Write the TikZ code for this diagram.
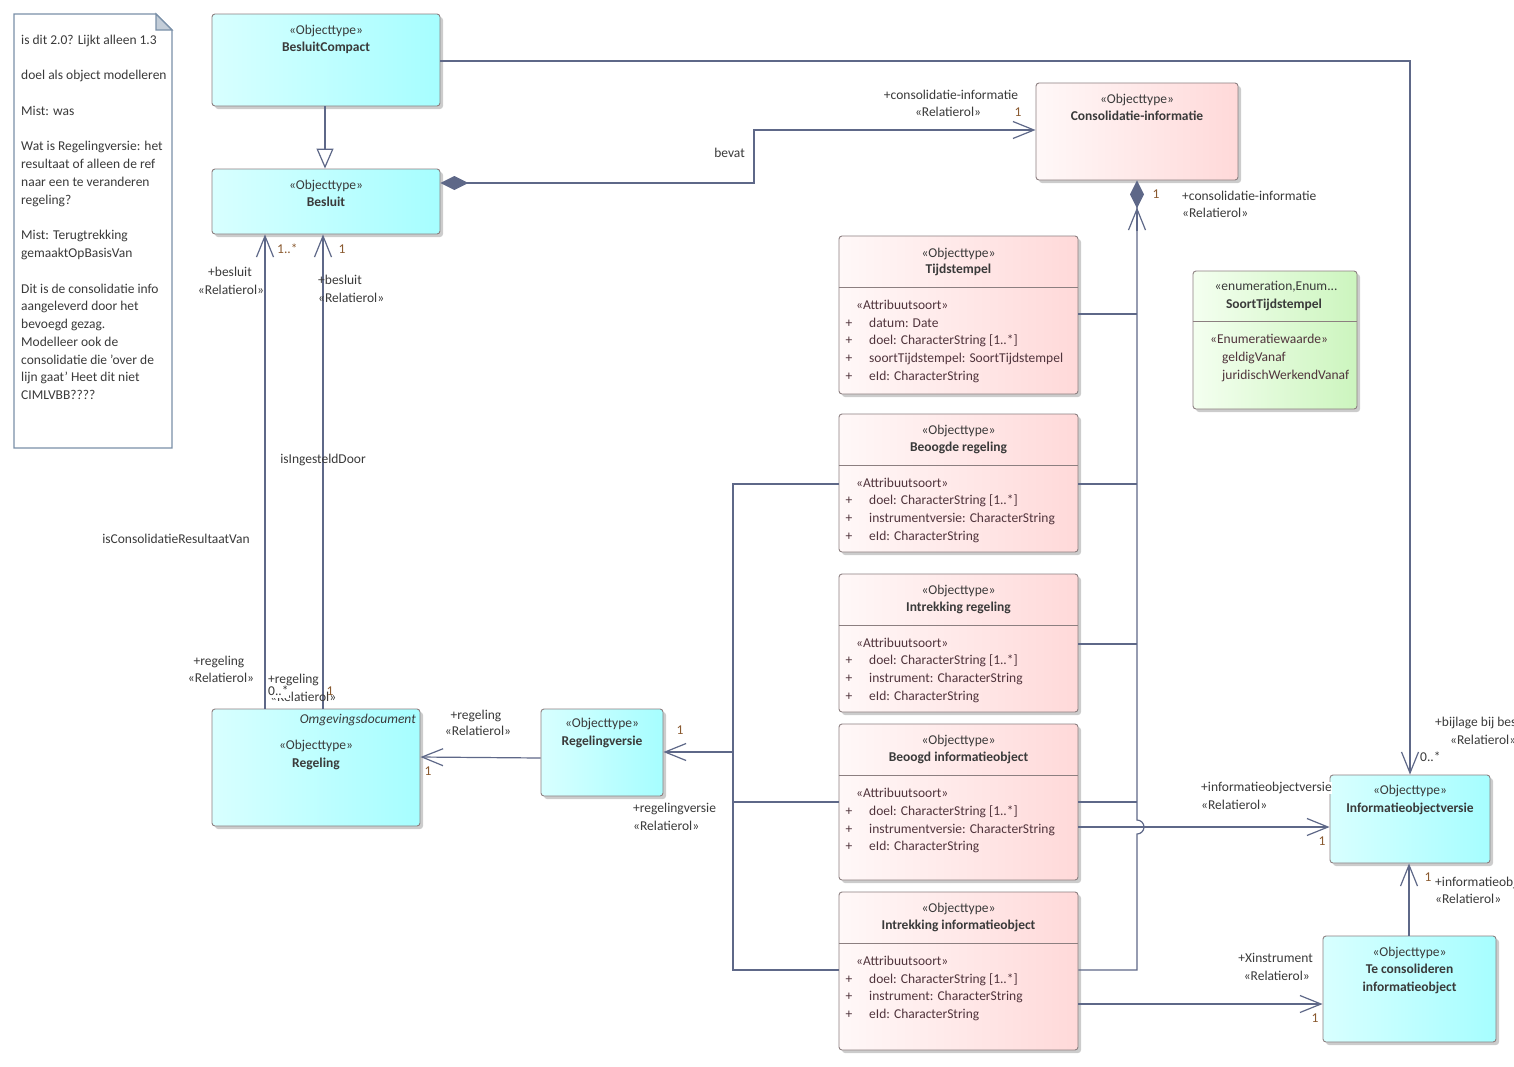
\documentclass[tikz,border=0pt]{standalone}
\usepackage{fontspec}
\setmainfont{Carlito}
\usetikzlibrary{arrows.meta,shadows,calc}
\definecolor{lc}{HTML}{5E6888}
\definecolor{bc}{HTML}{8C7F80}
\definecolor{tc}{HTML}{3A3A3A}
\definecolor{mc}{HTML}{8A5A30}
\definecolor{ac}{HTML}{50343C}
\definecolor{cyanL}{HTML}{D8FFFF}
\definecolor{cyanR}{HTML}{A6FEFF}
\definecolor{pinkL}{HTML}{FFF8F8}
\definecolor{pinkR}{HTML}{FFD9D9}
\definecolor{grnL}{HTML}{F4FFF0}
\definecolor{grnR}{HTML}{CCF5BE}
\definecolor{notec}{HTML}{7A90A8}
\newcommand\dfont{\fontsize{13.5}{17.7}\selectfont}
\tikzset{
 box/.style={draw=bc, line width=0.9pt, rounded corners=3pt, inner sep=0pt,
   drop shadow={shadow xshift=3pt,shadow yshift=-3pt,fill=black,opacity=0.2}},
 cyanbox/.style={box, left color=cyanL, right color=cyanR},
 pinkbox/.style={box, left color=pinkL, right color=pinkR},
 grnbox/.style={box, left color=grnL, right color=grnR},
 divider/.style={draw=bc, line width=0.9pt},
 lbl/.style={font=\dfont, text=tc, inner sep=0pt, text height=9pt, text depth=3pt},
 nm/.style={lbl, font=\dfont\bfseries},
 attr/.style={lbl, text=ac},
 mult/.style={lbl, text=mc},
 conn/.style={draw=lc, line width=1.2pt},
 oa/.style={-{Straight Barb[length=21pt,width=17pt,line width=1.2pt]}},
 gen/.style={-{Triangle[open,fill=white,length=20pt,width=17pt,line width=1.2pt]}},
 comp/.style={-{Diamond[length=28pt,width=14pt]}},
 compoa/.style={{Diamond[length=28pt,width=14pt]}-{Straight Barb[length=21pt,width=17pt,line width=1.2pt]}},
}
\begin{document}
\begin{tikzpicture}[x=1pt,y=-1pt]
\useasboundingbox (0,0) rectangle (1514,1066);
\fill[white] (0,0) rectangle (1514,1066);

% ---------- note ----------
\draw[notec, line width=1.1pt, fill=white] (14,14) -- (156,14) -- (172,30) -- (172,448) -- (14,448) -- cycle;
\draw[notec, line width=1.1pt, fill=notec!45] (156,14) -- (172,30) -- (156,30) -- cycle;
\foreach \yy/\tt in {41/{is dit 2.0? Lijkt alleen 1.3},76/{doel als object modelleren},112/{Mist: was},
  147/{Wat is Regelingversie: het},165/{resultaat of alleen de ref},183/{naar een te veranderen},201/{regeling?},
  236/{Mist: Terugtrekking},254/{gemaaktOpBasisVan},
  290/{Dit is de consolidatie info},307/{aangeleverd door het},325/{bevoegd gezag.},343/{Modelleer ook de},
  361/{consolidatie die 'over de},378/{lijn gaat' Heet dit niet},396/{CIMLVBB????}}
  \node[lbl, anchor=west] (note\yy) at (21,\yy) {\tt};

% ---------- classes ----------
\node[cyanbox, minimum width=228, minimum height=92] (bcmp) at (326,60) {};
\node[lbl] (bcmps) at (326,31) {«Objecttype»};
\node[nm] (bcmpn) at (326,48) {BesluitCompact};

\node[cyanbox, minimum width=228, minimum height=65] (besluit) at (326,201.5) {};
\node[lbl] (besluits) at (326,186) {«Objecttype»};
\node[nm] (besluitn) at (326,203) {Besluit};

\node[cyanbox, minimum width=208, minimum height=117] (regeling) at (316,767.5) {};
\node[lbl, anchor=east, font=\dfont\itshape] (regelingo) at (416,720) {Omgevingsdocument};
\node[lbl] (regelings) at (316,746) {«Objecttype»};
\node[nm] (regelingn) at (316,764) {Regeling};

\node[cyanbox, minimum width=122, minimum height=87] (rv) at (602,752.5) {};
\node[lbl] (rvs) at (602,724) {«Objecttype»};
\node[nm] (rvn) at (602,742) {Regelingversie};

\node[pinkbox, minimum width=202, minimum height=97] (ci) at (1137,131.5) {};
\node[lbl] (cis) at (1137,100) {«Objecttype»};
\node[nm] (cin) at (1137,117) {Consolidatie-informatie};

\node[grnbox, minimum width=164, minimum height=138] (st) at (1275,340) {};
\draw[divider] (st.west |- 0,321) -- (st.east |- 0,321);
\node[lbl] (sts) at (1276,287) {«enumeration,Enum...};
\node[nm] (stn) at (1274,305) {SoortTijdstempel};
\node[attr, anchor=west] (ste) at (1210,340) {«Enumeratiewaarde»};
\node[attr, anchor=west] (stv1) at (1222,358) {geldigVanaf};
\node[attr, anchor=west] (stv2) at (1222,376) {juridischWerkendVanaf};

\node[cyanbox, minimum width=160, minimum height=88] (iov) at (1410,819) {};
\node[lbl] (iovs) at (1410,791) {«Objecttype»};
\node[nm] (iovn) at (1410,809) {Informatieobjectversie};

\node[cyanbox, minimum width=173, minimum height=106] (tcio) at (1409.5,989) {};
\node[lbl] (tcios) at (1409.5,953) {«Objecttype»};
\node[nm] (tcion1) at (1409.5,970) {Te consolideren};
\node[nm] (tcion2) at (1409.5,988) {informatieobject};

% attribute classes
\node[pinkbox, minimum width=239, minimum height=158] (ts) at (958.5,315) {};
\draw[divider] (ts.west |- 0,287) -- (ts.east |- 0,287);
\node[lbl] (tss) at (958.5,254) {«Objecttype»};
\node[nm] (tsn) at (958.5,270) {Tijdstempel};
\node[attr, anchor=west] (tsa) at (856,306) {«Attribuutsoort»};
\foreach \yy/\tt in {324/{datum: Date},341/{doel: CharacterString [1..*]},359/{soortTijdstempel: SoortTijdstempel},377/{eId: CharacterString}}{
  \node[attr] (tsp\yy) at (849,\yy) {+};
  \node[attr, anchor=west] (tst\yy) at (869,\yy) {\tt};}

\node[pinkbox, minimum width=239, minimum height=138] (br) at (958.5,483) {};
\draw[divider] (br.west |- 0,465) -- (br.east |- 0,465);
\node[lbl] (brs) at (958.5,431) {«Objecttype»};
\node[nm] (brn) at (958.5,448) {Beoogde regeling};
\node[attr, anchor=west] (bra) at (856,484) {«Attribuutsoort»};
\foreach \yy/\tt in {501/{doel: CharacterString [1..*]},519/{instrumentversie: CharacterString},537/{eId: CharacterString}}{
  \node[attr] (brp\yy) at (849,\yy) {+};
  \node[attr, anchor=west] (brt\yy) at (869,\yy) {\tt};}

\node[pinkbox, minimum width=239, minimum height=138] (ir) at (958.5,643) {};
\draw[divider] (ir.west |- 0,625) -- (ir.east |- 0,625);
\node[lbl] (irs) at (958.5,591) {«Objecttype»};
\node[nm] (irn) at (958.5,608) {Intrekking regeling};
\node[attr, anchor=west] (ira) at (856,644) {«Attribuutsoort»};
\foreach \yy/\tt in {661/{doel: CharacterString [1..*]},679/{instrument: CharacterString},697/{eId: CharacterString}}{
  \node[attr] (irp\yy) at (849,\yy) {+};
  \node[attr, anchor=west] (irt\yy) at (869,\yy) {\tt};}

\node[pinkbox, minimum width=239, minimum height=156] (bio) at (958.5,802) {};
\draw[divider] (bio.west |- 0,775) -- (bio.east |- 0,775);
\node[lbl] (bios) at (958.5,741) {«Objecttype»};
\node[nm] (bion) at (958.5,758) {Beoogd informatieobject};
\node[attr, anchor=west] (bioa) at (856,794) {«Attribuutsoort»};
\foreach \yy/\tt in {812/{doel: CharacterString [1..*]},830/{instrumentversie: CharacterString},847/{eId: CharacterString}}{
  \node[attr] (biop\yy) at (849,\yy) {+};
  \node[attr, anchor=west] (biot\yy) at (869,\yy) {\tt};}

\node[pinkbox, minimum width=239, minimum height=158] (iio) at (958.5,971) {};
\draw[divider] (iio.west |- 0,943) -- (iio.east |- 0,943);
\node[lbl] (iios) at (958.5,909) {«Objecttype»};
\node[nm] (iion) at (958.5,926) {Intrekking informatieobject};
\node[attr, anchor=west] (iioa) at (856,962) {«Attribuutsoort»};
\foreach \yy/\tt in {980/{doel: CharacterString [1..*]},997/{instrument: CharacterString},1015/{eId: CharacterString}}{
  \node[attr] (iiop\yy) at (849,\yy) {+};
  \node[attr, anchor=west] (iiot\yy) at (869,\yy) {\tt};}

% ---------- connectors ----------
\draw[conn, gen] (bcmp.south -| 325,0) -- (besluit.north -| 325,0);
\draw[conn, compoa] (besluit.east |- 0,183) -- (754,183) -- (754,130) -- (ci.west |- 0,130);
\draw[conn, oa] (bcmp.east |- 0,61) -| (iov.north);
\draw[conn, oa] (regeling.north -| 265,0) -- (besluit.south -| 265,0);
\draw[conn, oa] (regeling.north -| 323,0) -- (besluit.south -| 323,0);
\draw[conn, oa] (rv.west |- 0,758) -- (regeling.east |- 0,757);

% left bus
\draw[conn] (br.west |- 0,484) -- (733,484) -- (733,970) -- (iio.west |- 0,970);
\draw[conn] (733,802) -- (bio.west |- 0,802);
\draw[conn, oa] (733,752) -- (rv.east |- 0,752);

% right bus to Consolidatie-informatie
\draw[conn] (ts.east |- 0,314) -- (1137,314);
\draw[conn] (br.east |- 0,484) -- (1137,484);
\draw[conn] (ir.east |- 0,644) -- (1137,644);
\draw[conn] (bio.east |- 0,802) -- (1137,802);
\draw[conn, comp] (iio.east |- 0,970) -- (1137,970) -- (1137,834) arc[start angle=90,end angle=-90,radius=7] -- (ci.south);
\coordinate (cibarb) at ($(ci.south)+(0,27)$);
\draw[conn, oa] ($(cibarb)+(0,24)$) -- (cibarb);

\draw[conn, oa] (bio.east |- 0,827) -- (iov.west |- 0,827);
\draw[conn, oa] (iio.east |- 0,1004) -- (tcio.west |- 0,1004);
\draw[conn, oa] (tcio.north -| 1409,0) -- (iov.south -| 1409,0);

% ---------- connector labels ----------
\node[lbl] (l1) at (951,96) {+consolidatie-informatie};
\node[lbl] (l2) at (948,113) {«Relatierol»};
\node[mult] (l3) at (1018,113) {1};
\node[lbl, anchor=east] (l4) at (745,154) {bevat};
\node[mult] (l5) at (1156,195) {1};
\node[lbl, anchor=west] (l6) at (1182,197) {+consolidatie-informatie};
\node[lbl, anchor=west] (l7) at (1182,214) {«Relatierol»};

\node[lbl, anchor=west] (l8) at (1435,723) {+bijlage bij besluit};
\node[lbl, anchor=west] (l9) at (1450,741) {«Relatierol»};
\node[lbl, anchor=west] (l10) at (1420,758) {0..*};

\node[lbl, anchor=west, fill=white] (l11) at (1201,788) {+informatieobjectversie};
\node[lbl, anchor=west] (l12) at (1201,806) {«Relatierol»};
\node[mult] (l13) at (1322,842) {1};

\node[mult] (l14) at (1428,878) {1};
\node[lbl, anchor=west] (l15) at (1435,883) {+informatieobjectversie};
\node[lbl, anchor=west] (l16) at (1435,900) {«Relatierol»};

\node[lbl, anchor=east] (l17) at (1313,959) {+Xinstrument};
\node[lbl, anchor=east] (l18) at (1310,977) {«Relatierol»};
\node[mult] (l19) at (1315,1019) {1};

\node[mult, anchor=west] (l20) at (277,250) {1..*};
\node[mult] (l21) at (342,250) {1};
\node[lbl] (l22) at (230,273) {+besluit};
\node[lbl] (l23) at (231,291) {«Relatierol»};
\node[lbl, anchor=west] (l24) at (318,281) {+besluit};
\node[lbl, anchor=west] (l25) at (318,299) {«Relatierol»};
\node[lbl] (l26) at (323,460) {isIngesteldDoor};
\node[lbl] (l27) at (176,540) {isConsolidatieResultaatVan};
\node[lbl] (l28) at (219,662) {+regeling};
\node[lbl] (l29) at (221,679) {«Relatierol»};
\node[lbl, anchor=west] (l31) at (270,698) {«Relatierol»};
\node[lbl, anchor=west] (l30) at (268,680) {+regeling};
\node[lbl, anchor=west, fill=white] (l32) at (268,692) {0..*};
\node[mult] (l33) at (330,692) {1};

\node[lbl] (l34) at (476,716) {+regeling};
\node[lbl] (l35) at (478,732) {«Relatierol»};
\node[mult] (l36) at (428,772) {1};
\node[mult] (l37) at (680,731) {1};
\node[lbl, anchor=west] (l38) at (633,809) {+regelingversie};
\node[lbl, anchor=west] (l39) at (633,827) {«Relatierol»};
\end{tikzpicture}
\end{document}
